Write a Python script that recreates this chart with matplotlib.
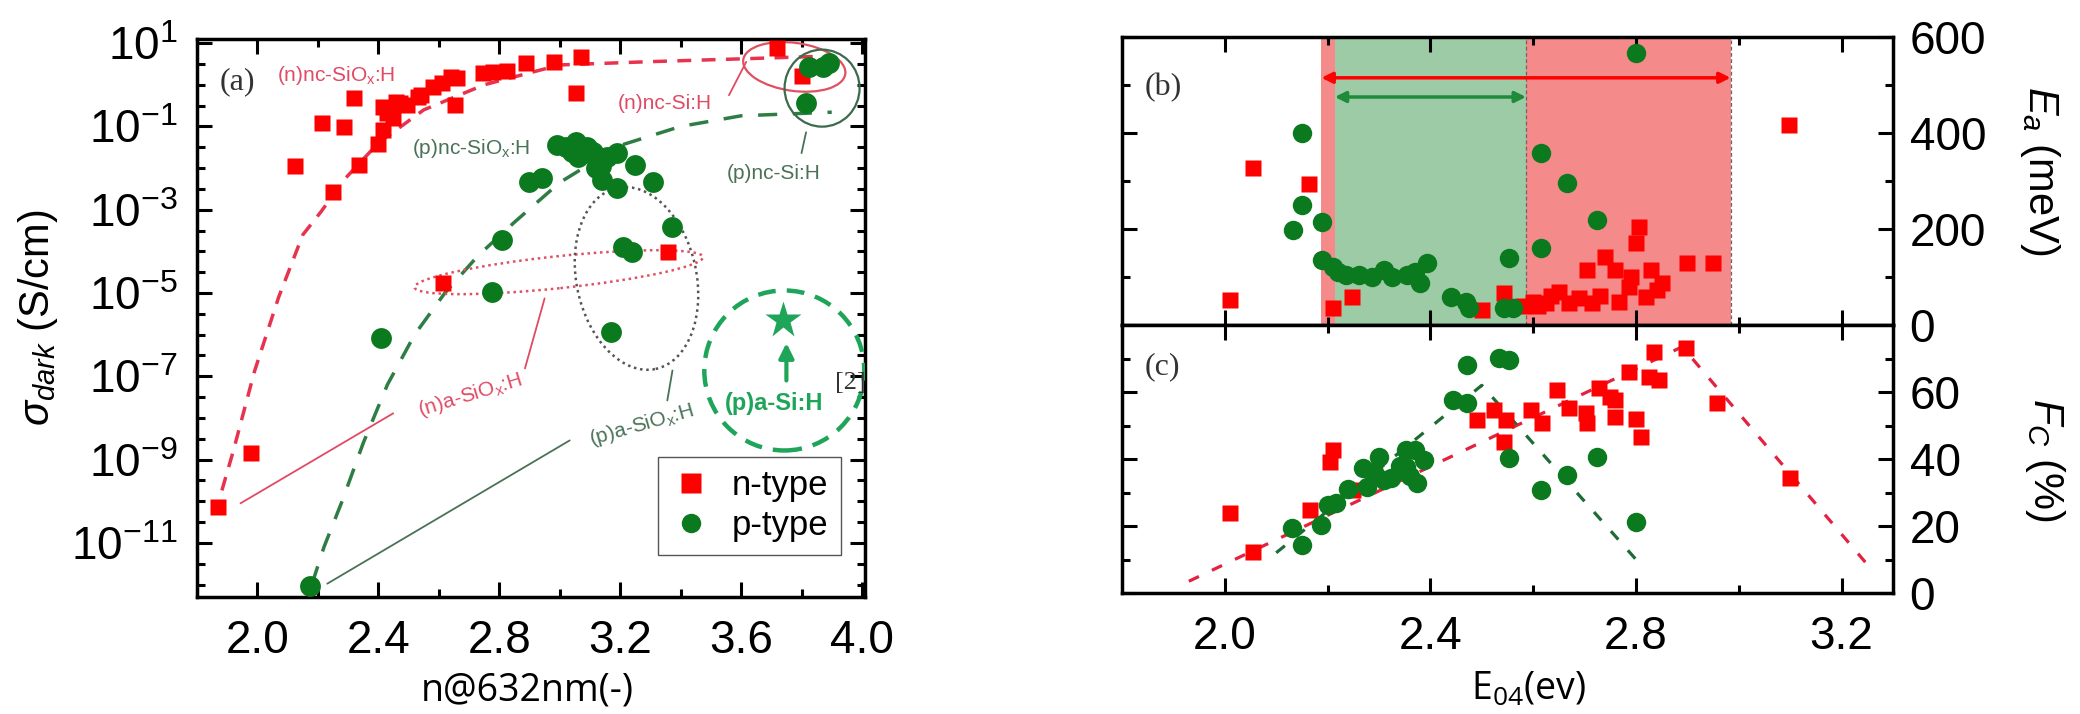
import numpy as np
import matplotlib
matplotlib.use('Agg')
import matplotlib.pyplot as plt
import matplotlib.transforms as mtransforms
from matplotlib.patches import Ellipse
from matplotlib.lines import Line2D
from matplotlib.ticker import FixedLocator, MultipleLocator, FuncFormatter

plt.rcParams['font.family'] = 'Liberation Sans'
plt.rcParams['mathtext.fontset'] = 'custom'
plt.rcParams['mathtext.rm'] = 'Liberation Sans'
plt.rcParams['mathtext.it'] = 'Liberation Sans:italic'
plt.rcParams['mathtext.bf'] = 'Liberation Sans:bold'

# ---- panel (a): dark conductivity vs refractive index ----
n_ri = [1.87, 1.977, 2.125, 2.215, 2.25, 2.285, 2.32, 2.335, 2.40, 2.415, 2.415, 2.43,
        2.45, 2.46, 2.47, 2.495, 2.53, 2.54, 2.58, 2.61, 2.614, 2.64, 2.655, 2.66,
        2.745, 2.78, 2.825, 2.89, 2.98, 3.055, 3.07, 3.357, 3.72, 3.80]
n_sigma = [7.1e-11, 1.4e-9, 1.1e-2, 0.12, 2.6e-3, 0.095, 0.48, 0.012, 0.038, 0.30, 0.081, 0.21,
           0.16, 0.38, 0.36, 0.32, 0.51, 0.56, 0.89, 1.1, 1.7e-5, 1.55, 0.32, 1.45,
           1.9, 2.0, 2.2, 3.3, 3.5, 0.63, 4.7, 9.5e-5, 7.6, 1.6]
p_ri = [2.175, 2.41, 2.775, 2.81, 2.90, 2.94, 2.99, 3.02, 3.04, 3.055, 3.06, 3.08, 3.09, 3.11,
        3.12, 3.135, 3.14, 3.155, 3.17, 3.19, 3.19, 3.21, 3.24, 3.25, 3.31, 3.37,
        3.815, 3.825, 3.87, 3.89]
p_sigma = [9.3e-13, 8.1e-7, 1.05e-5, 1.9e-4, 4.6e-3, 5.8e-3, 0.035, 0.032, 0.025, 0.042, 0.018,
           0.023, 0.032, 0.024, 0.010, 0.011, 5.1e-3, 0.018, 1.15e-6, 3.3e-3, 0.023, 1.26e-4,
           9.5e-5, 0.012, 4.6e-3, 3.8e-4, 0.36, 2.7, 2.7, 3.3]
n_fit_ri = [1.86, 1.92, 1.99, 2.07, 2.15, 2.21, 2.29, 2.4, 2.55, 2.75, 3.0, 3.3, 3.6, 3.85]
n_fit_sigma = [5e-11, 1.6e-9, 1.3e-7, 7.9e-6, 2.5e-4, 8.9e-4, 5.6e-3, 0.04, 0.25, 1.0, 3.0, 3.6, 4.2, 4.8]
p_fit_ri = [2.18, 2.22, 2.28, 2.35, 2.43, 2.52, 2.62, 2.73, 2.85, 3.0, 3.2, 3.4, 3.6, 3.9]
p_fit_sigma = [1e-12, 7.9e-12, 1e-10, 2.5e-9, 6.3e-8, 1e-6, 1e-5, 7.9e-5, 5e-4, 4.5e-3,
               0.035, 0.1, 0.18, 0.22]
ref_ri = [3.74]
ref_sigma = [2.2e-6]

# ---- panel (b): activation energy vs E04 ----
nb_e04 = [2.01, 2.054, 2.163, 2.21, 2.247, 2.50, 2.544, 2.58, 2.60, 2.61, 2.625, 2.635, 2.65,
          2.67, 2.69, 2.705, 2.715, 2.73, 2.74, 2.76, 2.767, 2.786, 2.79, 2.80, 2.806, 2.82,
          2.83, 2.84, 2.85, 2.90, 2.95, 3.097]
nb_ea = [52, 327, 294, 35, 58, 31, 66, 40, 48, 40, 46, 60, 69,
         46, 56, 115, 46, 60, 142, 115, 48, 79, 100, 170, 205, 58,
         115, 73, 87, 129, 129, 417]
pb_e04 = [2.132, 2.15, 2.15, 2.19, 2.19, 2.21, 2.22, 2.235, 2.262, 2.287, 2.31, 2.326, 2.355,
          2.37, 2.38, 2.394, 2.44, 2.47, 2.475, 2.544, 2.553, 2.56, 2.616, 2.616, 2.666, 2.725, 2.80]
pb_ea = [198, 400, 250, 215, 135, 121, 111, 105, 104, 100, 115, 100, 104,
         110, 87, 129, 58, 48, 35, 35, 139, 35, 358, 160, 295, 219, 566]
n_window = [2.188, 2.984]
p_window = [2.214, 2.586]

# ---- panel (c): crystalline fraction vs E04 ----
nc_e04 = [2.01, 2.054, 2.165, 2.204, 2.21, 2.249, 2.49, 2.524, 2.544, 2.548, 2.596, 2.618, 2.647,
          2.67, 2.703, 2.705, 2.728, 2.75, 2.76, 2.76, 2.786, 2.80, 2.81, 2.825, 2.835, 2.845,
          2.897, 2.957, 3.10]
nc_fc = [23.9, 12.2, 24.8, 39, 42.7, 30.7, 51.6, 54.6, 45, 51.6, 54.6, 50.7, 60.6,
         55.2, 53.7, 50.7, 61.2, 58.5, 57.6, 52.5, 66, 52, 46.6, 64.5, 72, 63.6,
         73, 56.7, 34.3]
pc_e04 = [2.13, 2.15, 2.188, 2.2, 2.217, 2.24, 2.268, 2.276, 2.29, 2.30, 2.31, 2.324, 2.34, 2.353,
          2.353, 2.36, 2.37, 2.373, 2.388, 2.443, 2.472, 2.472, 2.534, 2.553, 2.553, 2.616,
          2.666, 2.724, 2.80]
pc_fc = [19.4, 14.3, 20.3, 26.3, 26.9, 31, 37.3, 31.6, 36, 40.6, 33.7, 34.3, 38, 42.7,
         37.6, 35, 42.7, 32.8, 39.7, 57.6, 68, 56.7, 70.1, 69.5, 40.3, 30.7,
         35.2, 40.6, 21.2]
nc_fit_e04 = [1.93, 2.89, 3.25]
nc_fit_fc = [3.5, 73.5, 8.5]
pc_fit_e04 = [2.10, 2.50, 2.80]
pc_fit_fc = [12, 62, 10]

RED = '#ff0000'
GREEN = '#0b7a1f'
W, H = 2080, 714


def style(ax):
    for s in ax.spines.values():
        s.set_linewidth(2.5)
    ax.tick_params(which='both', direction='in', top=True, right=True, width=2.2, labelsize=33)
    ax.tick_params(which='major', length=11)
    ax.tick_params(which='minor', length=6)


def ellipse(ax, xc, yc, w, h, angle, **kw):
    # size in inches, centre in data coordinates
    trans = fig.dpi_scale_trans + mtransforms.ScaledTranslation(xc, yc, ax.transData)
    e = Ellipse((0, 0), w, h, angle=angle, transform=trans, fill=False, **kw)
    ax.add_artist(e)


def leader(ax, p1, p2, color):
    ax.annotate('', xy=p1, xytext=p2,
                arrowprops=dict(arrowstyle='-', color=color, lw=1.3, shrinkA=0, shrinkB=0))


fig = plt.figure(figsize=(W / 100, H / 100), dpi=100)
axa = fig.add_axes([197 / W, 1 - 597 / H, 668 / W, 558 / H])
axb = fig.add_axes([1122 / W, 1 - 325 / H, 771 / W, 288 / H])
axc = fig.add_axes([1122 / W, 1 - 593 / H, 771 / W, 268 / H])

# ---------------- (a) ----------------
style(axa)
axa.set_yscale('log')
axa.plot(n_fit_ri, n_fit_sigma, color='#e8334f', lw=2.5, dashes=(4, 3), zorder=2)
axa.plot(p_fit_ri, p_fit_sigma, color='#2e7d45', lw=2.5, dashes=(5.5, 4.5), zorder=2)
axa.plot(n_ri, n_sigma, ls='none', marker='s', ms=12, color=RED, mec='none', zorder=4)
axa.plot(p_ri, p_sigma, ls='none', marker='o', ms=15, color=GREEN, mec='none', zorder=4)
axa.plot(ref_ri, ref_sigma, ls='none', marker='*', ms=28, color='#1fa55a', mec='none', zorder=4)
axa.annotate('', xy=(3.75, 10 ** -6.2), xytext=(3.75, 10 ** -7.1),
             arrowprops=dict(arrowstyle='-|>', color='#1fa55a', lw=3, mutation_scale=22,
                             shrinkA=0, shrinkB=0))

axa.set_xlim(1.8, 4.01)
axa.set_ylim(10 ** -12.3, 10 ** 1.1)
axa.xaxis.set_major_locator(MultipleLocator(0.4))
axa.xaxis.set_minor_locator(MultipleLocator(0.2))
axa.xaxis.set_major_formatter(FuncFormatter(lambda v, p: '%.1f' % v))
axa.yaxis.set_major_locator(FixedLocator(10.0 ** np.arange(-11, 2, 2)))
axa.yaxis.set_minor_locator(FixedLocator(10.0 ** np.arange(-12.5, 1.5, 0.5)))
axa.yaxis.set_major_formatter(FuncFormatter(lambda v, p: r'$10^{%d}$' % round(np.log10(v))))
axa.yaxis.set_minor_formatter(FuncFormatter(lambda v, p: ''))
axa.tick_params(axis='x', pad=16)
axa.tick_params(axis='y', pad=14)

# group outlines
ellipse(axa, 3.776, 10 ** 0.43, 1.03, 0.48, -8, color='#e05060', lw=1.6, zorder=3)
ellipse(axa, 3.868, 10 ** -0.08, 0.75, 0.77, 0, color='#3c6a4c', lw=1.6, zorder=3)
ellipse(axa, 2.997, 10 ** -4.5, 2.9, 0.32, 6, color='#e05060', lw=1.8, ls=(0, (1, 1.5)), zorder=3)
ellipse(axa, 3.254, 10 ** -4.65, 1.2, 1.85, 12, color='#555555', lw=1.8, ls=(0, (1, 1.5)), zorder=3)
ellipse(axa, 3.743, 10 ** -6.86, 1.6, 1.6, 0, color='#1fa55a', lw=3.2, ls=(0, (4, 2.5)), zorder=3)

NRED = '#e04a63'
PGRN = '#4a7256'
axa.text(2.066, 10 ** 0.235, r'(n)nc-SiO$_\mathregular{x}$:H', color=NRED, fontsize=15,
         ha='left', va='center')
axa.text(2.512, 10 ** -1.52, r'(p)nc-SiO$_\mathregular{x}$:H', color=PGRN, fontsize=15,
         ha='left', va='center')
axa.text(3.191, 10 ** -0.46, '(n)nc-Si:H', color=NRED, fontsize=15, ha='left', va='center')
leader(axa, (3.617, 10 ** 0.55), (3.56, 10 ** -0.25), NRED)
axa.text(3.554, 10 ** -2.12, '(p)nc-Si:H', color=PGRN, fontsize=15, ha='left', va='center')
leader(axa, (3.815, 10 ** -1.14), (3.80, 10 ** -1.64), PGRN)
axa.text(2.703, 10 ** -7.46, r'(n)a-SiO$_\mathregular{x}$:H', color=NRED, fontsize=15,
         ha='center', va='center', rotation=17)
leader(axa, (2.95, 10 ** -5.13), (2.885, 10 ** -6.81), NRED)
leader(axa, (2.449, 10 ** -7.89), (1.944, 10 ** -10.05), NRED)
axa.text(3.27, 10 ** -8.18, r'(p)a-SiO$_\mathregular{x}$:H', color=PGRN, fontsize=15,
         ha='center', va='center', rotation=16)
leader(axa, (3.373, 10 ** -6.86), (3.356, 10 ** -7.58), PGRN)
leader(axa, (3.033, 10 ** -8.54), (2.231, 10 ** -11.98), PGRN)
axa.text(3.71, 10 ** -7.65, '(p)a-Si:H', color='#1fa55a', fontsize=17, fontweight='bold',
         ha='center', va='center')
axa.text(3.96, 10 ** -7.15, '[2]', color='#333333', fontsize=19, family='Liberation Serif',
         ha='center', va='center')
axa.text(0.061, 0.923, '(a)', transform=axa.transAxes, fontsize=23, family='Liberation Serif',
         color='#333333', ha='center', va='center')

handles = [Line2D([], [], ls='none', marker='s', ms=14, color=RED, mec='none'),
           Line2D([], [], ls='none', marker='o', ms=14, color=GREEN, mec='none')]
leg = axa.legend(handles, ['n-type', 'p-type'], loc='lower right',
                 bbox_to_anchor=(0.99, 0.045), fontsize=25, fancybox=False,
                 edgecolor='#555555', framealpha=1, handletextpad=0.6,
                 borderpad=0.35, labelspacing=0.2, handlelength=1.2)
leg.get_frame().set_linewidth(1.0)

# ---------------- (b) ----------------
style(axb)
axb.axvspan(n_window[0], n_window[1], color='#f58a8a', lw=0, zorder=0)
axb.axvspan(p_window[0], p_window[1], color='#9ccba6', lw=0, zorder=0.5)
for xv in (p_window[1], n_window[1]):
    axb.axvline(xv, color='#666666', lw=0.9, ls=(0, (3, 2)), zorder=1)
axb.annotate('', xy=(n_window[0], 515), xytext=(n_window[1], 515),
             arrowprops=dict(arrowstyle='<|-|>', color=RED, lw=2.5, mutation_scale=16,
                             shrinkA=0, shrinkB=0), zorder=2)
axb.annotate('', xy=(p_window[0], 475), xytext=(p_window[1], 475),
             arrowprops=dict(arrowstyle='<|-|>', color='#1f8a3a', lw=2.5, mutation_scale=16,
                             shrinkA=0, shrinkB=0), zorder=2)
axb.plot(nb_e04, nb_ea, ls='none', marker='s', ms=12, color=RED, mec='none', zorder=4)
axb.plot(pb_e04, pb_ea, ls='none', marker='o', ms=14, color=GREEN, mec='none', zorder=4)
axb.set_xlim(1.8, 3.3)
axb.set_ylim(0, 600)
axb.xaxis.set_major_locator(MultipleLocator(0.4))
axb.xaxis.set_minor_locator(FixedLocator([2.2, 2.6, 3.0]))
axb.yaxis.set_major_locator(MultipleLocator(200))
axb.yaxis.set_minor_locator(MultipleLocator(100))
axb.tick_params(axis='x', labelbottom=False)
axb.tick_params(axis='y', labelleft=False, labelright=True, pad=12)
axb.text(0.053, 0.826, '(b)', transform=axb.transAxes, fontsize=23, family='Liberation Serif',
         color='#333333', ha='center', va='center')

# ---------------- (c) ----------------
style(axc)
axc.plot(nc_fit_e04, nc_fit_fc, color='#e3223f', lw=2.3, dashes=(3.5, 4.5), zorder=2)
axc.plot(pc_fit_e04, pc_fit_fc, color='#1e6b35', lw=2.3, dashes=(3.5, 4.5), zorder=2)
axc.plot(nc_e04, nc_fc, ls='none', marker='s', ms=12, color=RED, mec='none', zorder=4)
axc.plot(pc_e04, pc_fc, ls='none', marker='o', ms=14, color=GREEN, mec='none', zorder=4)
axc.set_xlim(1.8, 3.3)
axc.set_ylim(0, 80)
axc.xaxis.set_major_locator(MultipleLocator(0.4))
axc.xaxis.set_minor_locator(FixedLocator([2.2, 2.6, 3.0]))
axc.xaxis.set_major_formatter(FuncFormatter(lambda v, p: '%.1f' % v))
axc.set_yticks([0, 20, 40, 60])
axc.yaxis.set_minor_locator(FixedLocator([10, 30, 50, 70]))
axc.tick_params(axis='x', pad=16)
axc.tick_params(axis='y', labelleft=False, labelright=True, pad=12)
axc.text(0.053, 0.843, '(c)', transform=axc.transAxes, fontsize=23, family='Liberation Serif',
         color='#333333', ha='center', va='center')

# axis titles
fig.text(38 / W, 1 - 318 / H, r'$\sigma_{dark}$ (S/cm)', rotation=90, fontsize=30,
         ha='center', va='center')
fig.text(527 / W, 1 - 690 / H, 'n@632nm(-)', family='Open Sans', fontsize=27,
         ha='center', va='center')
fig.text(1528 / W, 1 - 690 / H, r'E$_\mathregular{04}$(ev)', family='Open Sans', fontsize=27,
         ha='center', va='center')
fig.text(2040 / W, 1 - 171 / H, r'$E_a$ (meV)', rotation=-90, fontsize=30,
         ha='center', va='center')
fig.text(2045 / W, 1 - 460 / H, r'$F_C$ (%)', rotation=-90, fontsize=30,
         ha='center', va='center')

fig.savefig('out.png', dpi=100, facecolor='white')
